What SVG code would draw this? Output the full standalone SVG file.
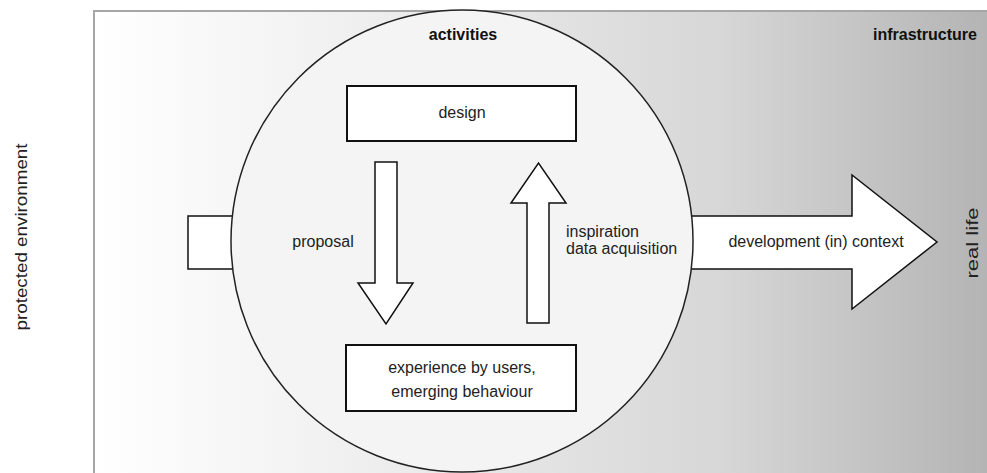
<svg xmlns="http://www.w3.org/2000/svg" width="987" height="473" viewBox="0 0 987 473">
  <defs>
    <linearGradient id="bg" gradientUnits="userSpaceOnUse" x1="94" y1="0" x2="987" y2="0">
      <stop offset="0" stop-color="#ffffff"/>
      <stop offset="0.25" stop-color="#f2f2f2"/>
      <stop offset="0.7" stop-color="#d7d7d7"/>
      <stop offset="1" stop-color="#b4b4b4"/>
    </linearGradient>
    <style>
      .shape { fill: #ffffff; stroke: #111111; stroke-width: 1.5; }
      .box { fill: #ffffff; stroke: #111111; stroke-width: 2; }
      .lbl { font-family: "Liberation Sans", Arial, sans-serif; font-size: 16px; fill: #222222; }
      .ttl { font-family: "Liberation Sans", Arial, sans-serif; font-size: 16px; font-weight: bold; fill: #111111; }
      .mid { text-anchor: middle; }
    </style>
  </defs>

  <!-- left margin label -->
  <text class="lbl mid" transform="translate(27 237) rotate(-90)" textLength="187" lengthAdjust="spacingAndGlyphs">protected environment</text>

  <!-- frame with gradient background -->
  <g id="frame">
    <rect x="94" y="11" width="900" height="480" fill="url(#bg)" stroke="#a6a6a6" stroke-width="2"/>
    <text class="ttl" x="977" y="40" text-anchor="end">infrastructure</text>
    <text class="lbl mid" transform="translate(978 243) rotate(-90)" font-size="18" textLength="71" lengthAdjust="spacingAndGlyphs">real life</text>
  </g>

  <g id="connectors">
    <!-- stub entering the circle from the left -->
    <rect class="shape" x="188" y="216" width="60" height="53"/>
    <!-- development (in) context -->
    <path id="development" class="shape" d="M680 216 H852 V175 L937 242 L852 309 V269 H680 Z"/>
  </g>

  <g id="activities">
    <circle cx="462" cy="241" r="231" fill="#f4f4f4" stroke="#222222" stroke-width="1.5"/>
    <text class="ttl mid" x="463" y="40">activities</text>
  </g>

  <g id="design">
    <rect class="box" x="347" y="86" width="229" height="55"/>
    <text class="lbl mid" x="462" y="118">design</text>
  </g>

  <g id="experience">
    <rect class="box" x="346" y="345" width="230" height="66"/>
    <text class="lbl mid" x="462" y="373">experience by users,</text>
    <text class="lbl mid" x="462" y="397">emerging behaviour</text>
  </g>

  <g id="connectors-inner">
    <!-- proposal: design to experience -->
    <path id="proposal" class="shape" d="M375 162 H397 V283 H413 L386 324 L358 283 H375 Z"/>
    <!-- inspiration / data acquisition: experience to design -->
    <path id="inspiration" class="shape" d="M527 323 V203 H511 L538.5 163 L566 203 H549 V323 Z"/>
  </g>

  <g id="labels">
    <text class="lbl mid" x="323" y="247">proposal</text>
    <text class="lbl" x="566" y="237">inspiration</text>
    <text class="lbl" x="566" y="254">data acquisition</text>
    <text class="lbl mid" x="816" y="247">development (in) context</text>
  </g>
</svg>
